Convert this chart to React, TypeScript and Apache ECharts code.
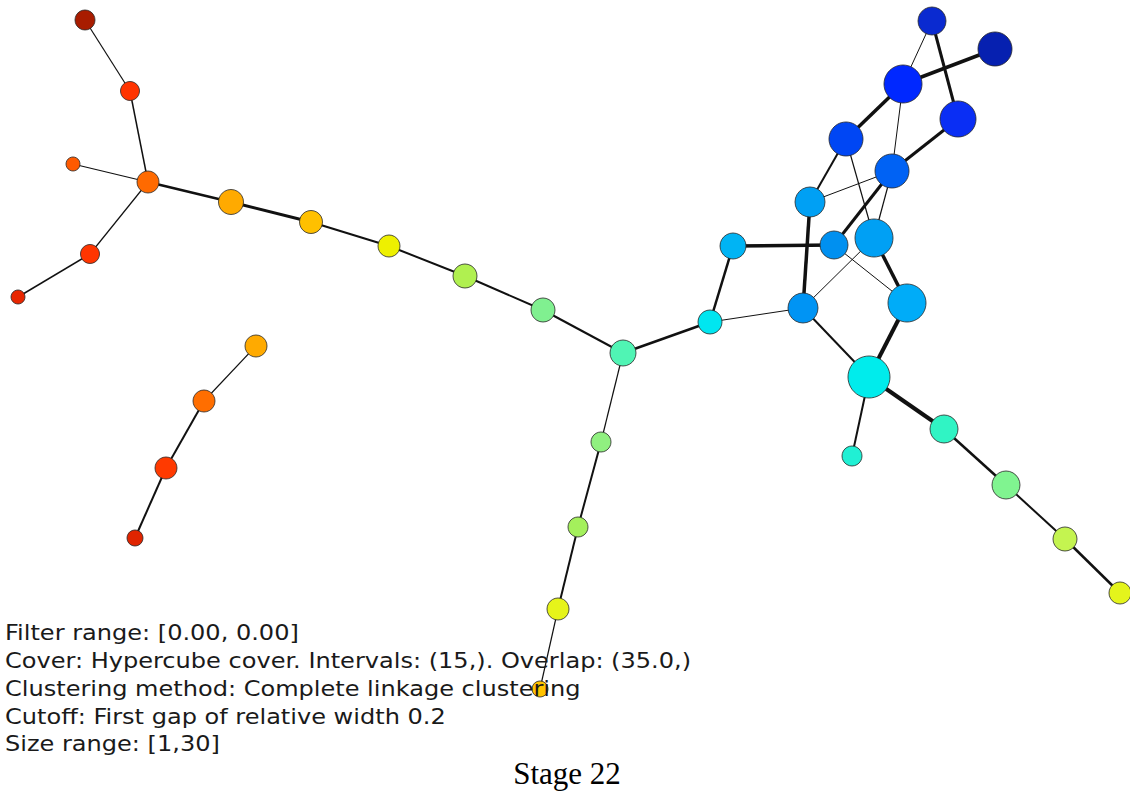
import React, { useEffect, useRef } from "react";
import * as echarts from "echarts";

// Node data: x, y (layout coordinates), cluster radius, colour (filter value)
const nodeX = [85, 130, 73, 148, 90, 18, 231, 311, 389, 465, 543, 623, 710, 601, 578, 558, 540, 256, 204, 166, 135,
  932, 995, 903, 958, 846, 892, 810, 733, 834, 874, 803, 907, 869, 852, 944, 1006, 1065, 1120];
const nodeY = [20, 91, 164, 182, 254, 297, 202, 222, 246, 276, 310, 353, 322, 442, 527, 609, 689, 346, 401, 468, 538,
  21, 49, 84, 119, 139, 171, 202, 246, 245, 238, 308, 303, 377, 456, 429, 485, 539, 593];
const nodeRadius = [10, 9.5, 7, 11, 9.5, 7, 12.5, 11.5, 11, 12, 12, 13, 12, 10, 10, 11, 8, 11, 11, 11, 8,
  14, 17, 19, 18, 17, 17, 15, 13, 14, 19, 15, 19, 21, 10, 14, 14, 12, 11];
const nodeColor = [
  "#a81c00", "#ff3300", "#ff5a00", "#ff6a00", "#ff3500", "#e82600", "#ffaa00", "#ffc000", "#eef000", "#b0f050",
  "#80f090", "#50f4b4", "#00e6f0", "#90f080", "#a4f05c", "#e6f41a", "#ffc400", "#ffaa00", "#ff6e00", "#ff3a00",
  "#e02400",
  "#0a2ad0", "#0620b0", "#0028ff", "#0a2ef4", "#0046f4", "#0062f4", "#00a0f4", "#00b4f4", "#0090f0", "#00a0f4",
  "#0094f4", "#00acf8", "#00ecec", "#20f0d4", "#30f4c4", "#80f490", "#c4f450", "#e4f41c",
];

// Edges: source, target, weight (line width)
const edgeSource = [0, 1, 2, 3, 4, 3, 6, 7, 8, 9, 10, 11, 11, 13, 14, 15, 17, 18, 19,
  21, 21, 22, 23, 23, 24, 25, 25, 26, 26, 26, 27, 28, 28, 12, 31, 29, 30, 31, 32, 33, 33, 35, 36, 37];
const edgeTarget = [1, 3, 3, 4, 5, 6, 7, 8, 9, 10, 11, 12, 13, 14, 15, 16, 18, 19, 20,
  23, 24, 23, 25, 26, 26, 27, 30, 27, 29, 30, 31, 29, 12, 31, 30, 32, 32, 33, 33, 34, 35, 36, 37, 38];
const edgeWidth = [1.2, 1.5, 1.2, 1.2, 1.5, 2.5, 3, 2, 2, 2, 2, 2.5, 1.2, 2, 2, 1.2, 1.2, 2, 2,
  1, 3, 3.5, 3.5, 1, 3, 2, 1.2, 1, 3, 1.2, 3.5, 3.5, 2.5, 1, 1, 1, 3.5, 2, 4, 2, 4, 2.5, 2, 2.5];

const infoLines = [
  "Filter range: [0.00, 0.00]",
  "Cover: Hypercube cover. Intervals: (15,). Overlap: (35.0,)",
  "Clustering method: Complete linkage clustering",
  "Cutoff: First gap of relative width 0.2",
  "Size range: [1,30]",
];
const titleText = "Stage 22";

export default function App() {
  const ref = useRef<HTMLDivElement>(null);
  useEffect(() => {
    if (!ref.current) return;
    const chart = echarts.init(ref.current, null, { renderer: "svg" });
    const minX = Math.min(...nodeX), maxX = Math.max(...nodeX);
    const minY = Math.min(...nodeY), maxY = Math.max(...nodeY);
    const nodes = nodeX.map((x, i) => ({
      id: String(i),
      name: String(i),
      x,
      y: nodeY[i],
      symbolSize: nodeRadius[i] * 2,
      itemStyle: { color: nodeColor[i] },
    }));
    const links = edgeSource.map((s, i) => ({
      source: String(s),
      target: String(edgeTarget[i]),
      lineStyle: { width: edgeWidth[i] },
    }));
    chart.setOption({
      animation: false,
      series: [
        {
          type: "graph",
          layout: "none",
          left: minX,
          top: minY,
          width: maxX - minX,
          height: maxY - minY,
          roam: false,
          symbol: "circle",
          data: nodes,
          links,
          label: { show: false },
          itemStyle: { borderColor: "rgba(40,40,40,0.8)", borderWidth: 1 },
          lineStyle: { color: "#111", opacity: 1, curveness: 0 },
          emphasis: { disabled: true },
        },
      ],
      graphic: [
        ...infoLines.map((t, i) => ({
          type: "text",
          x: 5,
          y: 633 + i * 27.75,
          scaleX: 1.145,
          z: 100,
          style: {
            text: t,
            font: '21px "DejaVu Sans"',
            fill: "#1a1a1a",
            verticalAlign: "middle",
          },
        })),
        {
          type: "text",
          x: 567,
          y: 773,
          z: 100,
          style: {
            text: titleText,
            font: '31px "Liberation Serif", "Times New Roman", serif',
            fill: "#000",
            align: "center",
            verticalAlign: "middle",
          },
        },
      ],
    });
    return () => chart.dispose();
  }, []);
  return (
    <div
      ref={ref}
      style={{ position: "fixed", left: 0, top: 0, width: 1130, height: 793, background: "#fff" }}
    />
  );
}
